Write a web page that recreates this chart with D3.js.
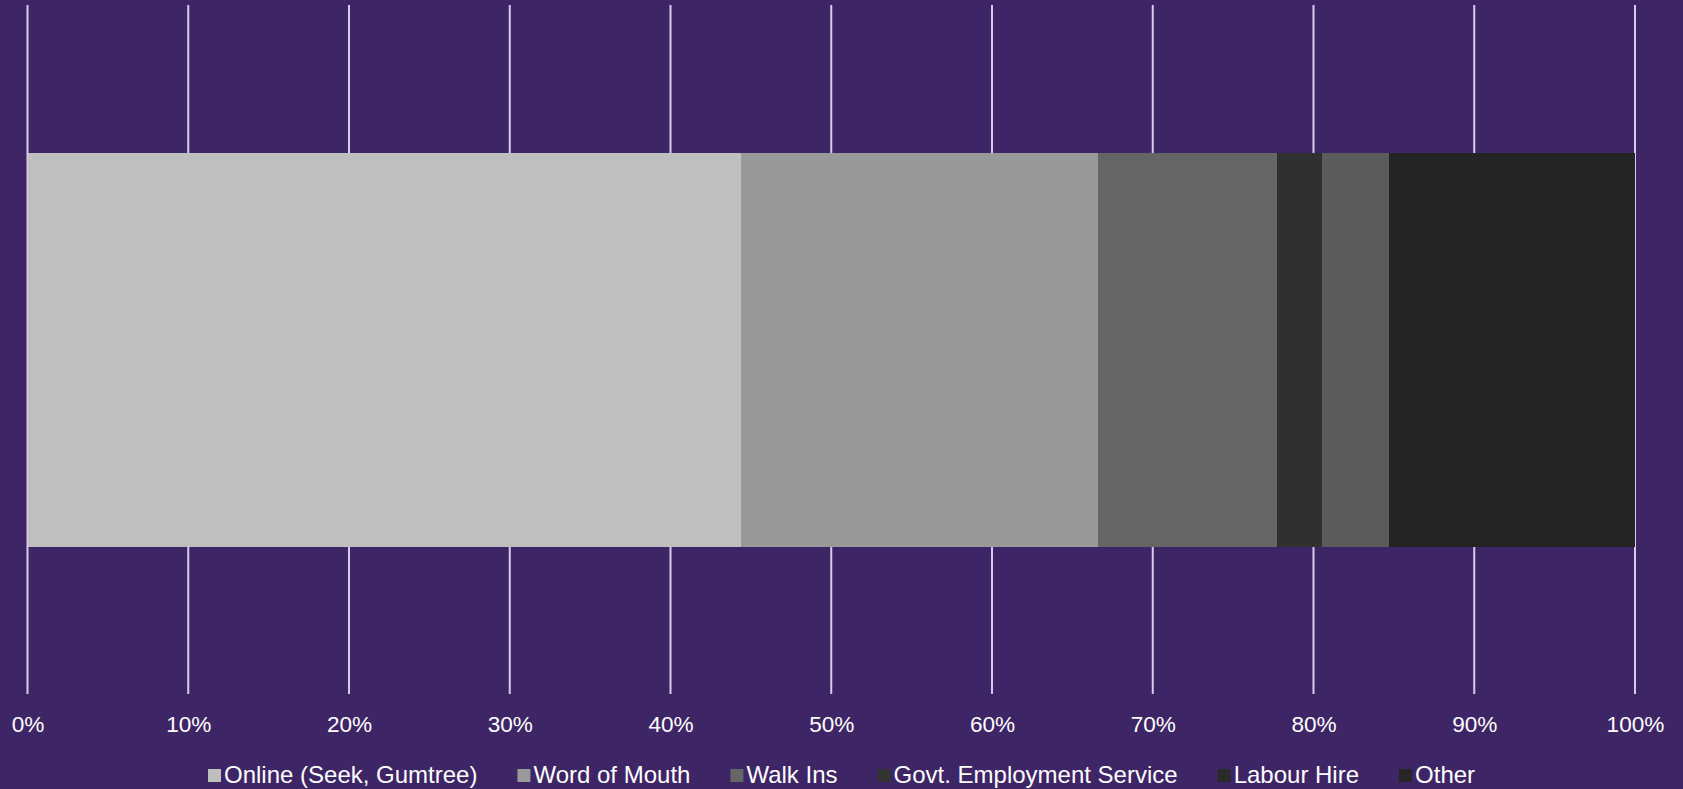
<!DOCTYPE html>
<html>
<head>
<meta charset="utf-8">
<script src="https://cdn.jsdelivr.net/npm/d3@7"></script>
<style>
  html, body { margin: 0; padding: 0; background: #3e2566; }
  svg { display: block; }
</style>
</head>
<body>
<svg id="chart" width="1683" height="789"></svg>
<script>
// Data
const categories = ["Online (Seek, Gumtree)", "Word of Mouth", "Walk Ins", "Govt. Employment Service", "Labour Hire", "Other"];
const values = [44.4, 22.2, 11.1, 2.8, 4.2, 15.3];
const tickValues = [0, 10, 20, 30, 40, 50, 60, 70, 80, 90, 100];
const tickLabels = ["0%", "10%", "20%", "30%", "40%", "50%", "60%", "70%", "80%", "90%", "100%"];

// Styles
const barColors = ["#bfbfbf", "#999999", "#656565", "#303030", "#5b5b5b", "#242424"];
const legendColors = ["#bfbfbf", "#999999", "#666666", "#333333", "#2a2a2a", "#262626"];
const bg = "#3e2566";
const gridColor = "#d9cbef";
const font = "Arial, 'Liberation Sans', sans-serif";

const svg = d3.select("#chart");
svg.append("rect").attr("width", 1683).attr("height", 789).attr("fill", bg);

const x = d3.scaleLinear().domain([0, 100]).range([27.5, 1635]);

// gridlines
svg.append("g").selectAll("line").data(tickValues).join("line")
  .attr("x1", d => x(d)).attr("x2", d => x(d))
  .attr("y1", 5).attr("y2", 694)
  .attr("stroke", gridColor).attr("stroke-width", 2);

// stacked bar
let cum = 0;
const segs = values.map((v, i) => { const s = { start: cum, end: cum + v, i }; cum += v; return s; });
svg.append("g").selectAll("rect").data(segs).join("rect")
  .attr("x", d => x(d.start))
  .attr("width", d => x(d.end) - x(d.start))
  .attr("y", 153)
  .attr("height", 546.5 - 153)
  .attr("fill", d => barColors[d.i])
  .attr("shape-rendering", "crispEdges");

// axis labels
const axis = d3.axisBottom(x).tickValues(tickValues).tickFormat((d, i) => tickLabels[i]).tickSize(0).tickPadding(0);
const ag = svg.append("g").attr("transform", "translate(0,724)").call(axis);
ag.select(".domain").remove();
ag.selectAll("text")
  .attr("fill", "#ffffff")
  .attr("font-family", font)
  .attr("font-size", 22.6)
  .attr("dy", "0.35em")
  .attr("y", 0);

// legend
const lg = svg.append("g");
let lx = 208;
categories.forEach((c, i) => {
  lg.append("rect").attr("x", lx).attr("y", 769).attr("width", 13).attr("height", 13).attr("fill", legendColors[i]);
  const t = lg.append("text").attr("x", lx + 16).attr("y", 775).attr("dy", "0.35em")
    .attr("fill", "#ffffff").attr("font-family", font).attr("font-size", 24).text(c);
  lx += 16 + t.node().getComputedTextLength() + 40;
});
</script>
</body>
</html>
